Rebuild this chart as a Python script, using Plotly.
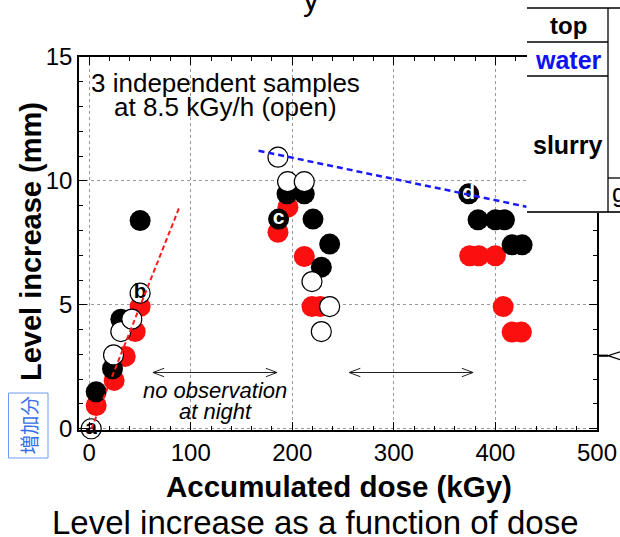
import plotly.graph_objects as go

# ---------------- data ----------------
red_x = [6.9, 24.6, 35.5, 45.3, 50.2, 185.9, 195.7, 211.8, 219.4, 227.6,
         374.7, 383.6, 400.0, 407.6, 416.4, 425.6]
red_y = [0.94, 1.95, 2.92, 3.92, 4.93, 7.93, 8.94, 6.95, 4.93, 4.93,
         6.98, 6.98, 6.98, 4.93, 3.90, 3.90]

black_x = [6.9, 23.0, 31.2, 50.2, 186.5, 194.8, 211.8, 220.4, 236.8, 228.6,
           373.7, 382.9, 400.0, 408.9, 416.4, 426.3]
black_y = [1.49, 2.42, 4.42, 8.40, 8.46, 9.48, 9.48, 8.46, 7.45, 6.52,
           9.48, 8.43, 8.43, 8.43, 7.42, 7.42]

open_x = [2.0, 24.0, 31.2, 42.0, 50.2, 185.9, 195.4, 211.8, 219.4, 236.8, 228.6]
open_y = [0.0, 2.98, 3.92, 4.42, 5.47, 10.96, 9.97, 9.97, 5.94, 4.93, 3.92]

label_text = ["a", "b", "c", "d"]
label_x = [2.0, 50.2, 186.5, 373.7]
label_y = [0.0, 5.47, 8.46, 9.48]
label_color = ["black", "black", "white", "white"]

red_fit_x = [2.2, 89.4]
red_fit_y = [0.0, 9.0]
blue_fit_x = [166.8, 430.5]
blue_fit_y = [11.22, 8.96]

night_arrows = [(62.8, 185.0), (256.0, 378.0)]
arrow_y = 2.27

x_ticks = [0, 100, 200, 300, 400, 500]
y_ticks = [0, 5, 10, 15]

# ---------------- layout geometry ----------------
W, H = 620, 537
L, R, T, B = 79, 597, 57, 430
FONT = "Liberation Sans, Arial, sans-serif"


def px(x):
    return (x - L) / (R - L)


def py(y):
    return (B - y) / (B - T)


fig = go.Figure()

fig.add_trace(go.Scatter(x=red_x, y=red_y, mode="markers", cliponaxis=False,
                         marker=dict(size=21, color="#fb0f0f", line=dict(width=0))))
fig.add_trace(go.Scatter(x=black_x, y=black_y, mode="markers", cliponaxis=False,
                         marker=dict(size=21, color="black", line=dict(width=0))))
fig.add_trace(go.Scatter(x=open_x, y=open_y, mode="markers", cliponaxis=False,
                         marker=dict(size=20, color="white", line=dict(width=1.2, color="black"))))
fig.add_trace(go.Scatter(x=label_x, y=label_y, mode="text", text=label_text, cliponaxis=False,
                         textposition="middle center",
                         textfont=dict(family=FONT, size=21, color=label_color, weight="bold")))
fig.add_trace(go.Scatter(x=red_fit_x, y=red_fit_y, mode="lines",
                         line=dict(color="#ff1a1a", width=2, dash="5px,3px")))
fig.add_trace(go.Scatter(x=blue_fit_x, y=blue_fit_y, mode="lines",
                         line=dict(color="#1a1aff", width=2.5, dash="6px,4px")))

shapes = []
# double arrows (no observation at night)
hx, hy = 11, 0.17
for (a0, a1) in night_arrows:
    shapes.append(dict(type="line", xref="x", yref="y", x0=a0, x1=a1, y0=arrow_y, y1=arrow_y,
                       line=dict(color="#222", width=1)))
    shapes.append(dict(type="path", xref="x", yref="y",
                       path=f"M{a0+hx},{arrow_y+hy} L{a0},{arrow_y} L{a0+hx},{arrow_y-hy}",
                       line=dict(color="#222", width=1)))
    shapes.append(dict(type="path", xref="x", yref="y",
                       path=f"M{a1-hx},{arrow_y+hy} L{a1},{arrow_y} L{a1-hx},{arrow_y-hy}",
                       line=dict(color="#222", width=1)))

# cropped table at top right (part of the slide)
shapes.append(dict(type="rect", xref="paper", yref="paper", layer="above",
                   x0=px(527), x1=px(640), y0=py(212), y1=py(-5),
                   fillcolor="white", line=dict(width=0)))
for (x0, x1, yy) in [(527, 640, 8), (527, 608, 42), (527, 608, 76), (608, 640, 178)]:
    shapes.append(dict(type="line", xref="paper", yref="paper", layer="above",
                       x0=px(x0), x1=px(x1), y0=py(yy), y1=py(yy),
                       line=dict(color="black", width=1.3)))
shapes.append(dict(type="line", xref="paper", yref="paper", layer="above",
                   x0=px(527), x1=px(640), y0=py(212), y1=py(212),
                   line=dict(color="#333", width=2)))
shapes.append(dict(type="line", xref="paper", yref="paper", layer="above",
                   x0=px(608), x1=px(608), y0=py(8), y1=py(212),
                   line=dict(color="black", width=1.3)))
# pointer at right edge
shapes.append(dict(type="line", xref="paper", yref="paper", layer="above",
                   x0=px(597), x1=px(608), y0=py(355.7), y1=py(355.7),
                   line=dict(color="black", width=2.2)))
shapes.append(dict(type="path", xref="paper", yref="paper", layer="above",
                   path=f"M{px(621)},{py(351.5)} L{px(608)},{py(355.7)} L{px(621)},{py(360)}",
                   line=dict(color="black", width=1.3)))
# box around the Japanese label
shapes.append(dict(type="rect", xref="paper", yref="paper", layer="above",
                   x0=px(8.5), x1=px(48), y0=py(458), y1=py(393),
                   line=dict(color="#6f9cf5", width=1), fillcolor="rgba(0,0,0,0)"))

ann = []


def txt(text, x, y, size, color="black", bold=False, italic=False, angle=0, family=FONT, **kw):
    ann.append(dict(text=text, xref="paper", yref="paper", x=px(x), y=py(y),
                    xanchor="center", yanchor="middle", showarrow=False, textangle=angle,
                    font=dict(family=family, size=size, color=color,
                              weight="bold" if bold else "normal",
                              style="italic" if italic else "normal"), **kw))


txt("3 independent samples", 225, 83, 26)
txt("at 8.5 kGy/h (open)", 225, 107, 26)
txt("no observation", 215, 390, 22, italic=True)
txt("at night", 215, 411, 22, italic=True)
txt("Level increase (mm)", 31, 242, 29, bold=True, angle=-90)
txt("Accumulated dose (kGy)", 339, 487, 29.5, bold=True)
txt("Level increase as a function of dose", 315, 522, 33)
txt("top", 568, 26, 24, bold=True)
txt("water", 568, 60, 25, color="#1010f0", bold=True)
txt("slurry", 568, 145, 25, bold=True)
txt("y", 311, -1, 32)
txt("増加分", 28, 425.5, 19.5, color="#3b6fe8", angle=-90, family="Noto Sans CJK JP")
ann.append(dict(text="g", xref="paper", yref="paper", x=px(610), y=py(193),
                xanchor="left", yanchor="middle", showarrow=False,
                font=dict(family=FONT, size=25, color="black")))

axis_common = dict(showline=True, linecolor="black", linewidth=1.5, mirror="allticks",
                   ticks="inside", ticklen=8, tickwidth=1, tickcolor="black",
                   showgrid=True, gridcolor="#9a9a9a", griddash="dot", gridwidth=1,
                   zeroline=False, automargin=False,
                   tickfont=dict(family=FONT, size=24, color="black"))

fig.update_layout(
    template="none",
    width=W, height=H, showlegend=False,
    margin=dict(l=L, r=W - R, t=T, b=H - B, pad=0, autoexpand=False),
    paper_bgcolor="white", plot_bgcolor="white",
    xaxis=dict(range=[-10, 500], tickvals=x_ticks, **axis_common,
               minor=dict(dtick=20, tick0=0, ticks="inside", ticklen=4, tickcolor="black",
                          showgrid=False)),
    yaxis=dict(range=[-0.05, 15], tickvals=y_ticks, **axis_common,
               minor=dict(dtick=1, tick0=0, ticks="inside", ticklen=4, tickcolor="black",
                          showgrid=False)),
    shapes=shapes, annotations=ann,
)

fig.write_html("out.html")
